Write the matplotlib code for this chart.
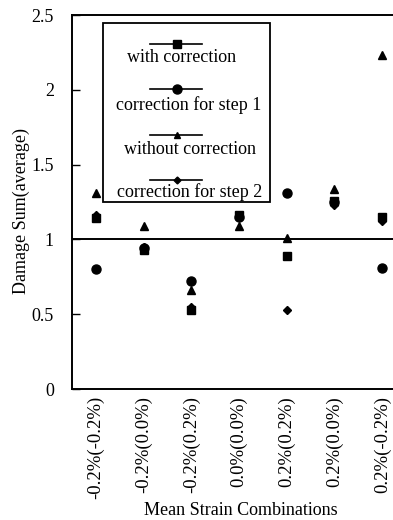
import matplotlib
matplotlib.use('Agg')
import matplotlib.pyplot as plt
from matplotlib.lines import Line2D
from matplotlib.patches import Rectangle

plt.rcParams['font.family'] = ['Liberation Serif', 'DejaVu Serif']
plt.rcParams['font.size'] = 13

# data
categories = ['-0.2%(-0.2%)', '-0.2%(0.0%)', '-0.2%(0.2%)', '0.0%(0.0%)',
              '0.2%(0.2%)', '0.2%(0.0%)', '0.2%(-0.2%)']
with_correction = [1.14, 0.93, 0.53, 1.16, 0.89, 1.26, 1.15]
correction_step1 = [0.80, 0.94, 0.72, 1.15, 1.31, 1.25, 0.81]
without_correction = [1.31, 1.09, 0.66, 1.09, 1.01, 1.34, 2.23]
correction_step2 = [1.16, 0.95, 0.55, 1.16, 0.53, 1.23, 1.12]

W, H = 393, 520
fig = plt.figure(figsize=(W / 100, H / 100), dpi=100)

# axes extends past the right edge like the cropped original
left, right, top, bottom = 72, 406, 15, 389
ax = fig.add_axes([left / W, 1 - bottom / H, (right - left) / W, (bottom - top) / H])

x = list(range(1, len(categories) + 1))
ax.plot(x, correction_step1, 'o', color='black', ms=6.5, ls='none', zorder=3)
ax.plot(x, without_correction, '^', color='black', ms=6, ls='none', zorder=3)
ax.plot(x, with_correction, 's', color='black', ms=6, ls='none', zorder=4)
ax.plot(x, correction_step2, 'D', color='black', ms=4.5, ls='none', zorder=4)

ax.axhline(1, color='black', lw=1.4, zorder=2)

ax.set_xlim(0.5, 7.5)
ax.set_ylim(0, 2.5)
ax.set_yticks([0, 0.5, 1, 1.5, 2, 2.5])
ax.set_yticklabels(['0', '0.5', '1', '1.5', '2', '2.5'])
ax.set_xticks(x)
ax.set_xticklabels(categories, rotation=90, fontsize=13.5)
ax.tick_params(axis='y', direction='in', length=6, width=1, pad=13)
ax.tick_params(axis='x', length=0, pad=5)
for s in ['left', 'bottom', 'top']:
    ax.spines[s].set_linewidth(1.4)
ax.spines['right'].set_visible(False)

ax.set_ylabel('Damage Sum(average)')
ax.yaxis.set_label_coords(-0.126, 0.476)
ax.set_xlabel('Mean Strain Combinations')
ax.xaxis.set_label_coords(0.505, -0.302)

# legend drawn by hand: handle above label, like the original
lg = fig.add_axes([0, 0, 1, 1])
lg.set_xlim(0, W)
lg.set_ylim(H, 0)
lg.axis('off')
lg.add_patch(Rectangle((103, 23), 167, 179, fill=False, ec='black', lw=1.3))
entries = [('s', 6, 'with correction', 44, 58, 182),
           ('o', 6.5, 'correction for step 1', 89, 105, 189),
           ('^', 5, 'without correction', 135, 150, 190),
           ('D', 3.5, 'correction for step 2', 180, 192, 190)]
for mk, ms, label, ly, ty, tx in entries:
    lg.add_line(Line2D([150, 202], [ly, ly], color='black', lw=1.2))
    lg.add_line(Line2D([177], [ly], marker=mk, ms=ms, color='black', ls='none'))
    lg.text(tx, ty, label, ha='center', va='center', fontsize=13)

fig.savefig('out.png', dpi=100)
